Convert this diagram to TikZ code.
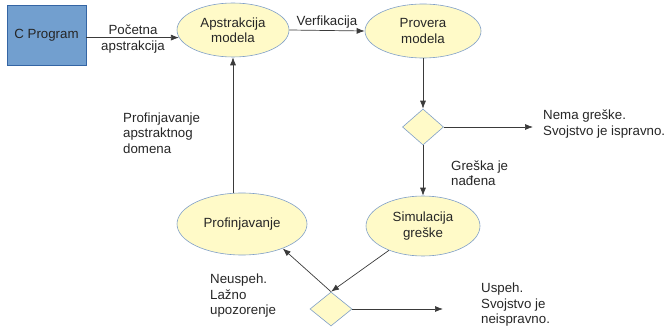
\documentclass[tikz,border=0pt]{standalone}
\usepackage{fontspec}
\setmainfont{Liberation Sans}
\usetikzlibrary{shapes.geometric,arrows.meta}
\definecolor{boxfill}{HTML}{729FCF}
\definecolor{boxline}{HTML}{3465A4}
\definecolor{ellfill}{HTML}{FFFAC8}
\definecolor{ellline}{HTML}{7F9FC8}
\definecolor{linec}{HTML}{3A3A3A}
\begin{document}
\begin{tikzpicture}[x=1pt,y=-1pt,
  every node/.style={font=\fontsize{13.3}{15.5}\selectfont, text=black!85},
  progbox/.style={rectangle, draw=boxline, fill=boxfill, line width=0.6pt,
    minimum width=79pt, minimum height=60pt, inner sep=0pt},
  stepell/.style={ellipse, draw=ellline, fill=ellfill, line width=0.6pt,
    align=center, inner sep=0pt},
  decide/.style={diamond, draw=ellline, fill=ellfill, line width=0.6pt,
    inner sep=0pt},
  note/.style={align=left, anchor=west, inner sep=0pt},
  flow/.style={draw=linec, line width=0.7pt, -{Latex[length=8pt,width=6pt]}}]
\useasboundingbox (0,0) rectangle (666,331);

% process blocks
\node[progbox] (cprog) at (46.5,35) {C Program};
\node[stepell, minimum width=112pt, minimum height=54pt] (apst) at (233,30) {Apstrakcija\\modela};
\node[stepell, minimum width=116pt, minimum height=54pt] (prov) at (423,31) {Provera\\modela};
\node[decide, minimum width=41pt, minimum height=36pt] (d1) at (423,127) {};
\node[stepell, minimum width=114pt, minimum height=60pt] (sim) at (423,226) {Simulacija\\greške};
\node[stepell, minimum width=130pt, minimum height=62pt] (prof) at (242,224) {Profinjavanje};
\node[decide, minimum width=42pt, minimum height=34pt] (d2) at (331,309) {};

% free ends of the outgoing arrows
\coordinate (okend) at (533,127);
\coordinate (failend) at (443,309);

% connectors
\draw[flow] (cprog.east |- apst.188.5) -- (apst.188.5);
\node[align=center, inner sep=0pt] (lpoc) at (133,39) {Početna\\apstrakcija};
\draw[flow] (apst.east) -- node[above, inner sep=2pt] (lver) {Verfikacija} (prov.west);
\draw[flow] (prov.south) -- (d1.north);
\draw[flow] (d1.east) -- (okend);
\draw[flow] (d1.south) -- (sim.north);
\draw[flow] (sim) -- (d2.north);
\draw[flow] (d2.north) -- (prof.329);
\draw[flow] (d2.east) -- (failend);
\draw[flow] (apst.south |- prof.north) -- (apst.south);

% annotations
\node[note] (lok) at (543,124) {Nema greške.\\Svojstvo je ispravno.};
\node[note] (lfound) at (451,173) {Greška je\\nađena};
\node[note] (lfail) at (481,305) {Uspeh.\\Svojstvo je\\neispravno.};
\node[note] (lfalse) at (210,296) {Neuspeh.\\Lažno\\upozorenje};
\node[note] (lref) at (123,133) {Profinjavanje\\apstraktnog\\domena};
\end{tikzpicture}
\end{document}
